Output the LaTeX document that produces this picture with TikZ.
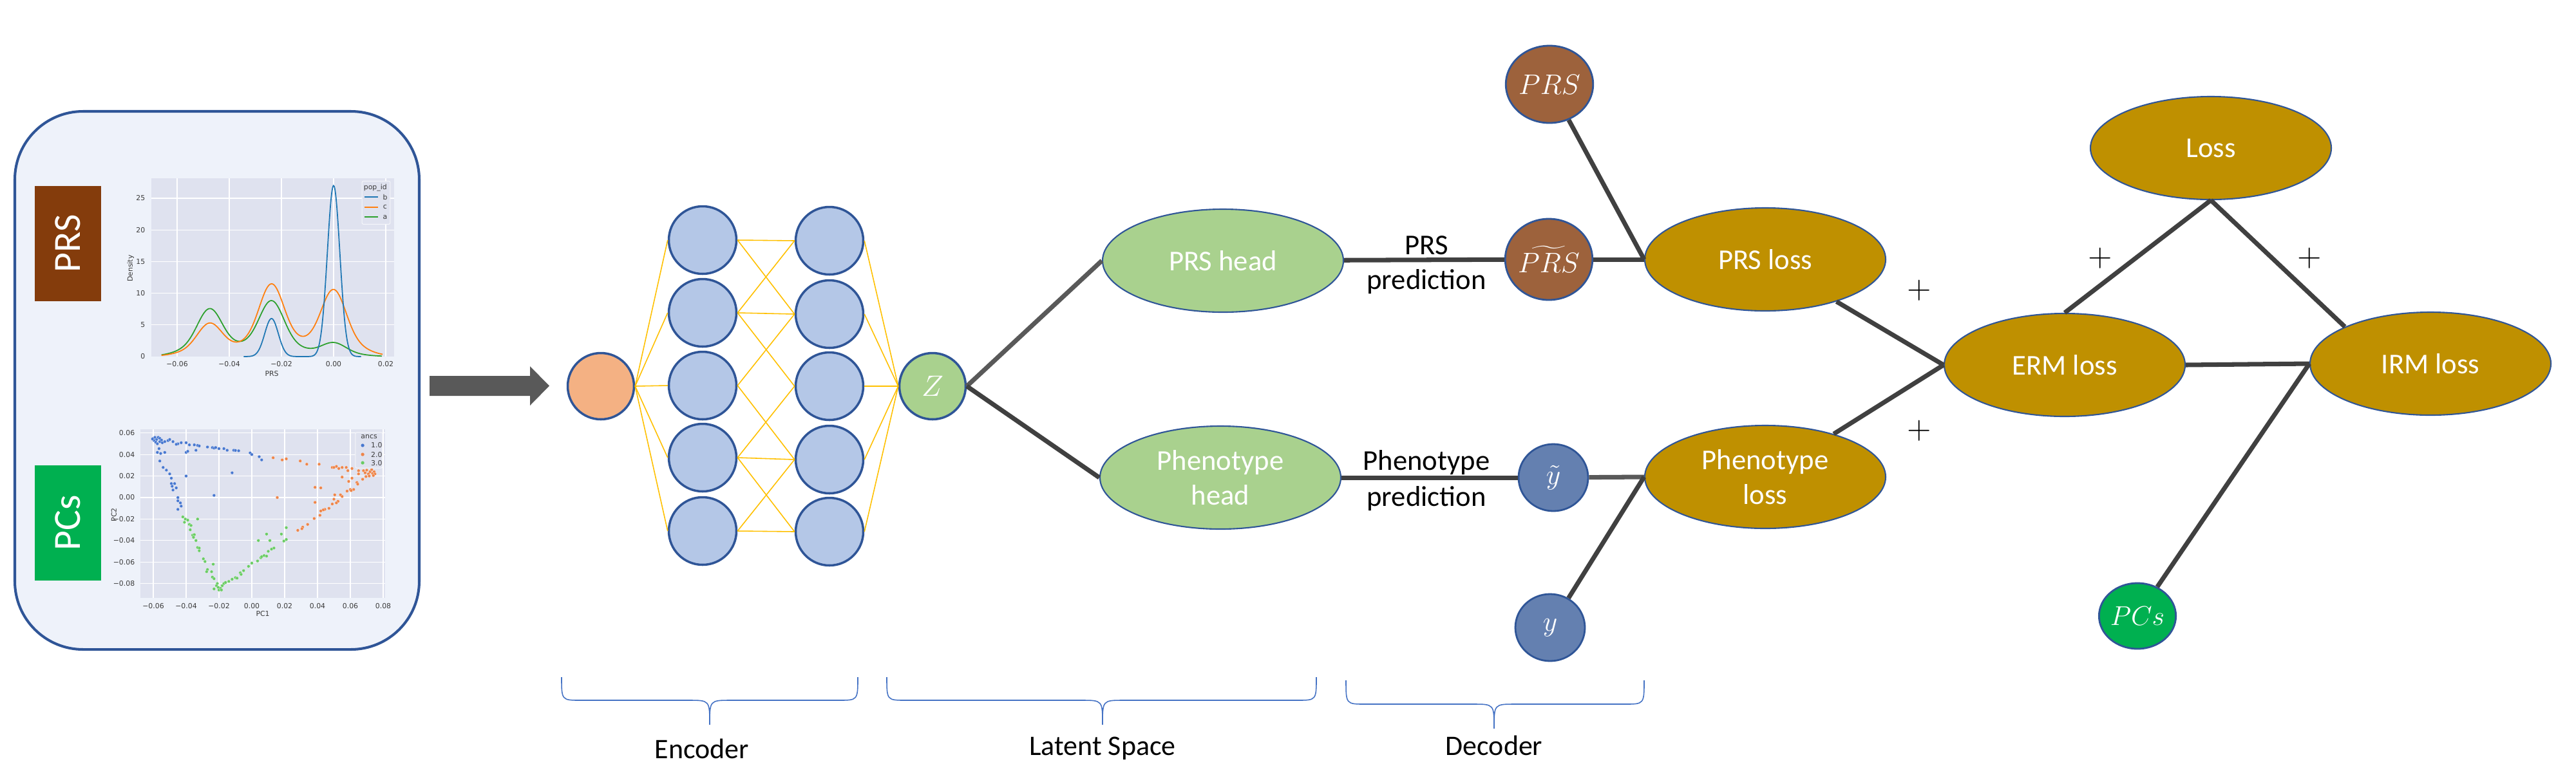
\RequirePackage{fix-cm}
\documentclass[tikz,border=0pt]{standalone}
\usepackage{fontspec}
\setmainfont{Carlito}
\newfontfamily\plotfont{DejaVu Sans}
\usetikzlibrary{shapes.geometric}

\definecolor{panelfill}{HTML}{EEF2FA}
\definecolor{darkblue}{HTML}{2F5597}
\definecolor{prsbrown}{HTML}{843C0C}
\definecolor{pcsgreen}{HTML}{00B050}
\definecolor{neuronblue}{HTML}{B4C7E7}
\definecolor{inputorange}{HTML}{F4B183}
\definecolor{latentgreen}{HTML}{A9D18E}
\definecolor{prsnode}{RGB}{157,98,60}
\definecolor{ynode}{RGB}{100,128,176}
\definecolor{lossgold}{HTML}{BF9000}
\definecolor{edgegray}{HTML}{404040}
\definecolor{edgelight}{HTML}{595959}
\definecolor{synapseyellow}{HTML}{FFC000}
\definecolor{bracecolor}{HTML}{4472C4}
\definecolor{arrowgray}{HTML}{595959}
\definecolor{plotbg}{HTML}{DFE2EF}
\definecolor{plottext}{HTML}{3A3A3A}
\definecolor{kdeblue}{HTML}{1F77B4}
\definecolor{kdeorange}{HTML}{FF7F0E}
\definecolor{kdegreen}{HTML}{2CA02C}
\definecolor{ptblue}{HTML}{4878D0}
\definecolor{ptorange}{HTML}{EE854A}
\definecolor{ptgreen}{HTML}{6ACC64}

\begin{document}
\begin{tikzpicture}[yscale=-1,
	neuron/.style={draw=darkblue, fill=neuronblue, shape=circle, line width=1pt, minimum size=10.5mm, inner sep=0pt},
	headnode/.style={draw=darkblue, fill=latentgreen, shape=ellipse, line width=0.6pt, minimum width=37.4mm, minimum height=16mm, inner sep=0pt, text=white, align=center, font=\fontsize{12.7}{15.5}\selectfont},
	lossnode/.style={headnode, fill=lossgold},
	varnode/.style={draw=darkblue, shape=ellipse, line width=0.8pt, inner sep=0pt, text=white, font=\fontsize{12.5}{15}\selectfont},
	catbox/.style={shape=rectangle, rotate=90, minimum width=17.9mm, minimum height=10.3mm, inner sep=0pt, text=white, font=\fontsize{17}{20}\selectfont},
	linkline/.style={draw=edgegray, line width=2pt},
	synapse/.style={draw=synapseyellow, line width=0.45pt},
	groupbrace/.style={draw=bracecolor, line width=0.45pt},
	bracelabel/.style={inner sep=0pt, font=\fontsize{12.5}{15}\selectfont},
	predlabel/.style={anchor=base, inner sep=0pt, font=\fontsize{12.7}{15}\selectfont},
	plussign/.style={inner sep=0pt, font=\fontsize{14}{16}\selectfont},
	plotlabel/.style={text=plottext, inner sep=0pt, font={\plotfont\fontsize{3.1}{3.7}\selectfont}},
	gridline/.style={draw=white, line width=0.35pt},
	dot/.style={draw=white, line width=0.05pt},
	declare function={kde(\d)=0.7*exp(max(-9,-(\d)*(\d)/40.5))+0.3*exp(max(-9,-(\d)*(\d)/162));}]
	\useasboundingbox (0, 0) rectangle (40, 12);

	\node [draw=darkblue, fill=panelfill, line width=1.15pt, rounded corners=10.6mm, minimum width=62.8mm, minimum height=83.6mm] (panel) at (3.37, 5.91) {};
	\node [catbox, fill=prsbrown] (prsbox) at (1.055, 3.785) {PRS};
	\node [catbox, fill=pcsgreen] (pcsbox) at (1.055, 8.125) {PCs};

	\begin{scope}[shift={(5.18, 5.54)}, x=0.0405cm, y=-0.0984cm]
		\fill [plotbg] (-69.9, 0) rectangle (23.2, 28.15);
		\foreach \u in {-60, -40, ..., 20}
			\draw [gridline] (\u, 0) -- (\u, 28.15);
		\foreach \v in {5, 10, ..., 25}
			\draw [gridline] (-69.9, \v) -- (23.2, \v);
		\draw [kdegreen, line width=0.5pt] plot [domain=-66:18.5, samples=170, smooth] (\x, {7.5*kde(\x+47.5) + 8.75*kde(\x+23.8) + 2.15*kde(\x)});
		\draw [kdeorange, line width=0.5pt] plot [domain=-66:18.8, samples=170, smooth] (\x, {5.2*kde(\x+47.5) + 11.35*kde(\x+23.8) + 10.5*kde(\x)});
		\draw [kdeblue, line width=0.5pt] plot [domain=-34.5:10.5, samples=150, smooth] (\x, {6*exp(max(-9, -(\x+23.8)*(\x+23.8)/13.52)) + 27*exp(max(-9, -(\x)*(\x)/11.52))});
		\foreach \v in {0, 5, ..., 25}
			\node [plotlabel, anchor=east] (dy\v) at (-72.1, \v) {\v};
		\foreach \u/\t in {-60/−0.06, -40/−0.04, -20/−0.02, 0/0.00, 20/0.02}
			\node [plotlabel] (dx\u) at (\u, -1.22) {\t};
		\node [plotlabel] (dxlabel) at (-23.7, -2.74) {PRS};
		\node [plotlabel, rotate=90] (dylabel) at (-77.8, 13.9) {Density};
		\filldraw [fill=plotbg, draw=white!70!plotbg, line width=0.3pt, rounded corners=0.6pt] (10.9, 27.7) rectangle (21.7, 20.9);
		\node [plotlabel] (popid) at (16.0, 26.7) {pop\_id};
		\draw [kdeblue, line width=0.5pt] (11.8, 25.2) -- (17.1, 25.2);
		\draw [kdeorange, line width=0.5pt] (11.8, 23.6) -- (17.1, 23.6);
		\draw [kdegreen, line width=0.5pt] (11.8, 22.05) -- (17.1, 22.05);
		\node [plotlabel] (lgb) at (19.75, 25.2) {b};
		\node [plotlabel] (lgc) at (19.75, 23.6) {c};
		\node [plotlabel] (lga) at (19.75, 22.05) {a};
	\end{scope}

	\begin{scope}[shift={(3.91, 7.73)}, x=0.255cm, y=-0.167cm]
		\fill [plotbg] (-6.78, -9.34) rectangle (8.12, 6.35);
		\foreach \p in {-6, -4, ..., 8}
			\draw [gridline] (\p, -9.34) -- (\p, 6.35);
		\foreach \q in {-8, -6, ..., 6}
			\draw [gridline] (-6.78, \q) -- (8.12, \q);
		\foreach \p/\q in {-6.0/5.5, -5.9/5.6, -5.8/5.4, -5.95/5.3, -5.7/5.6, -5.6/5.5, -5.85/5.15, -5.6/5.2, -5.5/5.35, -6.05/5.45, -5.75/5.0, -5.45/5.1, -5.3/5.2,
			-5.1/5.3, -5.0/5.4, -4.8/5.2, -4.5/5.0, -4.3/5.1, -4.0/5.1, -3.8/4.9, -3.5/4.9, -3.3/4.85, -3.2/4.8, -2.7/4.7, -2.4/4.65, -2.3/4.6, -2.2/4.65, -2.0/4.55, -1.7/4.55, -1.5/4.4, -1.1/4.4, -1.0/4.38, -0.8/4.35, -0.1/4.15, 0.0/4.0, 0.45/3.8, 0.6/3.5,
			-4.0/4.2, -3.9/4.3, -3.4/4.4, -4.6/4.95,
			-5.75/4.2, -5.55/4.1, -5.3/4.2, -5.65/4.55, -5.6/3.4, -5.4/2.8, -5.2/2.55, -5.0/2.2, -4.9/1.8, -4.9/1.3, -4.7/1.3, -4.8/0.7, -4.6/0.9, -4.85/1.05, -4.5/0.0, -4.5/-0.3, -4.35/-0.5, -4.3/-0.8, -4.5/-1.1,
			-4.0/2.0, -1.2/2.3, -2.3/0.2}
			\filldraw [dot, fill=ptblue] (\p, \q) circle [radius=0.7pt];
		\foreach \p/\q in {1.3/3.7, 1.85/3.5, 2.1/3.6, 2.95/3.4, 3.35/3.1, 4.1/3.1, 4.9/2.8, 5.15/2.9, 5.3/2.7, 5.5/2.8, 5.75/2.8, 6.1/2.7, 5.85/2.5, 5.0/2.8, 5.5/1.9, 6.1/1.8, 5.9/1.5,
			6.5/2.5, 6.5/2.2, 6.8/2.5, 6.9/2.3, 7.0/2.55, 7.1/2.2, 7.2/2.4, 7.3/2.6, 7.35/2.25, 7.45/2.4, 7.5/2.2, 7.15/2.0, 6.95/1.95, 6.75/1.7, 6.4/1.4, 6.45/1.25, 7.4/2.05,
			5.8/0.6, 6.0/0.75, 6.2/0.75, 6.05/0.65, 3.85/0.95, 4.2/0.9, 5.05/0.25, 5.0/-0.15, 5.4/0.25, 5.5/0.1, 5.25/-0.35, 5.15/-0.5, 3.85/-0.45, 4.9/-0.6, 4.7/-1.0, 4.45/-1.1, 4.35/-1.15, 4.2/-1.25, 4.15/-1.65, 3.8/-1.95, 3.4/-2.5, 3.1/-2.75, 3.05/-2.9, 2.8/-3.05, 1.55/0.0}
			\filldraw [dot, fill=ptorange] (\p, \q) circle [radius=0.7pt];
		\foreach \p/\q in {-4.2/-1.8, -4.05/-2.0, -3.9/-2.1, -4.1/-2.3, -3.8/-2.5, -3.7/-2.6, -3.75/-3.0, -3.3/-2.0, -3.6/-3.5, -3.5/-3.45, -3.55/-3.7, -3.4/-4.0, -3.3/-4.65, -3.2/-4.7, -3.2/-4.95, -2.95/-5.7, -2.85/-5.95, -2.7/-6.7, -2.75/-6.9, -2.45/-6.9, -2.35/-6.2, -2.4/-7.4, -2.3/-7.55,
			-2.1/-8.0, -2.15/-8.2, -2.3/-8.5, -2.0/-8.6, -1.9/-8.45, -2.05/-8.35, -1.8/-8.2, -1.7/-8.0, -1.85/-8.6, -1.6/-7.9, -1.4/-7.8, -1.2/-7.6, -1.0/-7.45, -0.9/-7.5, -0.7/-7.0, -0.65/-7.15, -0.5/-6.8, -0.2/-6.4, 0.0/-6.1,
			0.35/-5.9, 0.55/-5.6, 0.6/-5.5, 0.75/-5.4, 0.9/-5.45, 1.0/-5.0, 1.2/-4.8, 1.35/-4.7, 0.4/-4.0, 0.9/-3.4, 1.1/-4.0, 1.8/-3.4, 1.95/-4.05, 2.1/-3.9, 2.1/-2.8}
			\filldraw [dot, fill=ptgreen] (\p, \q) circle [radius=0.7pt];
		\foreach \q/\t in {6/0.06, 4/0.04, 2/0.02, 0/0.00, -2/−0.02, -4/−0.04, -6/−0.06, -8/−0.08}
			\node [plotlabel, anchor=east] (py\q) at (-7.1, \q) {\t};
		\foreach \p/\t in {-6/−0.06, -4/−0.04, -2/−0.02, 0/0.00, 2/0.02, 4/0.04, 6/0.06, 8/0.08}
			\node [plotlabel] (px\p) at (\p, -10.1) {\t};
		\node [plotlabel] (pxlabel) at (0.67, -10.8) {PC1};
		\node [plotlabel, rotate=90] (pylabel) at (-8.4, -1.6) {PC2};
		\filldraw [fill=plotbg, draw=white!70!plotbg, line width=0.3pt, rounded corners=0.6pt] (6.31, 6.05) rectangle (7.96, 2.75);
		\node [plotlabel] (ancs) at (7.14, 5.63) {ancs};
		\fill [ptblue] (6.75, 4.85) circle [radius=0.75pt];
		\fill [ptorange] (6.75, 4.01) circle [radius=0.75pt];
		\fill [ptgreen] (6.75, 3.23) circle [radius=0.75pt];
		\node [plotlabel] (lg1) at (7.6, 4.85) {1.0};
		\node [plotlabel] (lg2) at (7.6, 4.01) {2.0};
		\node [plotlabel] (lg3) at (7.6, 3.23) {3.0};
	\end{scope}

	\fill [arrowgray] (6.67, 5.84) -- (8.23, 5.84) -- (8.23, 5.69) -- (8.53, 5.995) -- (8.23, 6.30) -- (8.23, 6.15) -- (6.67, 6.15) -- cycle;

	\node [neuron, fill=inputorange, minimum size=10.3mm] (x) at (9.33, 6.00) {};
	\node [neuron] (a1) at (10.91, 3.73) {};
	\node [neuron] (a2) at (10.91, 4.86) {};
	\node [neuron] (a3) at (10.91, 5.99) {};
	\node [neuron] (a4) at (10.91, 7.11) {};
	\node [neuron] (a5) at (10.91, 8.25) {};

	\node [neuron] (b1) at (12.88, 3.74) {};
	\node [neuron] (b2) at (12.88, 4.88) {};
	\node [neuron] (b3) at (12.88, 6.00) {};
	\node [neuron] (b4) at (12.88, 7.14) {};
	\node [neuron] (b5) at (12.88, 8.26) {};

	\node [neuron, fill=latentgreen, minimum size=10.3mm, text=white, font=\fontsize{13}{15}\selectfont] (z) at (14.48, 6.00) {$Z$};

	\draw [synapse] (x.east) to (a1.west);
	\draw [synapse] (x.east) to (a2.west);
	\draw [synapse] (x.east) to (a3.west);
	\draw [synapse] (x.east) to (a4.west);
	\draw [synapse] (x.east) to (a5.west);

	\draw [synapse] (a1.east) to (b1.west);
	\draw [synapse] (a1.east) to (b2.west);
	\draw [synapse] (a2.east) to (b1.west);
	\draw [synapse] (a2.east) to (b2.west);
	\draw [synapse] (a2.east) to (b3.west);
	\draw [synapse] (a3.east) to (b2.west);
	\draw [synapse] (a3.east) to (b4.west);
	\draw [synapse] (a4.east) to (b3.west);
	\draw [synapse] (a4.east) to (b4.west);
	\draw [synapse] (a4.east) to (b5.west);
	\draw [synapse] (a5.east) to (b4.west);
	\draw [synapse] (a5.east) to (b5.west);

	\draw [synapse] (b1.east) to (z.west);
	\draw [synapse] (b2.east) to (z.west);
	\draw [synapse] (b3.east) to (z.west);
	\draw [synapse] (b4.east) to (z.west);
	\draw [synapse] (b5.east) to (z.west);

	\node [headnode] (prshead) at (18.99, 4.05) {PRS head};
	\node [headnode] (phenohead) at (18.95, 7.42) {Phenotype\\head};

	\node [varnode, fill=prsnode, minimum width=12.8mm, minimum height=12mm] (prs) at (24.06, 1.31) {$PRS$};
	\node [varnode, fill=prsnode, minimum width=13mm, minimum height=12.6mm] (prst) at (24.05, 4.03) {$\widetilde{PRS}$};
	\node [varnode, fill=ynode, minimum width=10.8mm, minimum height=10.4mm] (yt) at (24.12, 7.42) {$\tilde{y}$};
	\node [varnode, fill=ynode, minimum width=10.8mm, minimum height=10.4mm] (y) at (24.07, 9.75) {$y$};

	\node [lossnode] (prsloss) at (27.41, 4.03) {PRS loss};
	\node [lossnode] (phenoloss) at (27.41, 7.41) {Phenotype\\loss};
	\node [lossnode] (erm) at (32.06, 5.67) {ERM loss};
	\node [lossnode] (loss) at (34.33, 2.30) {Loss};
	\node [lossnode] (irm) at (37.74, 5.65) {IRM loss};
	\node [varnode, fill=pcsgreen, minimum width=10.5mm, minimum height=10.2mm, font=\fontsize{12}{14}\selectfont] (pcs) at (33.19, 9.57) {$PCs$};

	\draw [linkline, draw=edgelight] (z.east) to (prshead.west);
	\draw [linkline] (z.east) to (phenohead.west);
	\draw [linkline] (prshead) to (prst);
	\draw [linkline] (phenohead) to (yt);

	\draw [linkline] (prs) to (prsloss.west);
	\draw [linkline] (prst) to (prsloss.west);
	\draw [linkline, draw=edgelight] (yt) to (phenoloss.west);
	\draw [linkline] (y) to (phenoloss.west);

	\draw [linkline] (prsloss) to (erm.west);
	\draw [linkline] (phenoloss) to (erm.west);
	\draw [linkline] (loss.south) to (erm.north);
	\draw [linkline] (loss.south) to (irm.north west);
	\draw [linkline] (erm.east) to (irm.west);
	\draw [linkline] (pcs) to (irm.west);

	\node [predlabel] (prslbl) at (22.15, 3.95) {PRS};
	\node [predlabel] (prspred) at (22.15, 4.49) {prediction};
	\node [predlabel] (phenolbl) at (22.15, 7.30) {Phenotype};
	\node [predlabel] (phenopred) at (22.15, 7.86) {prediction};

	\node [plussign] (plus1) at (29.80, 4.51) {$+$};
	\node [plussign] (plus2) at (29.80, 6.69) {$+$};
	\node [plussign] (plus3) at (32.61, 4.01) {$+$};
	\node [plussign] (plus4) at (35.86, 4.01) {$+$};

	\draw [groupbrace] (8.72, 10.52) .. controls (8.72, 10.88) .. (9.02, 10.88) -- (10.69, 10.88) .. controls (11.02, 10.88) .. (11.02, 11.26) .. controls (11.02, 10.88) .. (11.35, 10.88) -- (13.02, 10.88) .. controls (13.32, 10.88) .. (13.32, 10.52);
	\draw [groupbrace] (13.77, 10.52) .. controls (13.77, 10.88) .. (14.07, 10.88) -- (16.79, 10.88) .. controls (17.12, 10.88) .. (17.12, 11.26) .. controls (17.12, 10.88) .. (17.45, 10.88) -- (20.14, 10.88) .. controls (20.44, 10.88) .. (20.44, 10.52);
	\draw [groupbrace] (20.90, 10.57) .. controls (20.90, 10.94) .. (21.20, 10.94) -- (22.87, 10.94) .. controls (23.20, 10.94) .. (23.20, 11.32) .. controls (23.20, 10.94) .. (23.53, 10.94) -- (25.23, 10.94) .. controls (25.53, 10.94) .. (25.53, 10.57);

	\node [bracelabel] (enclbl) at (10.90, 11.63) {Encoder};
	\node [bracelabel] (latlbl) at (17.12, 11.63) {Latent Space};
	\node [bracelabel] (declbl) at (23.20, 11.58) {Decoder};
\end{tikzpicture}
\end{document}
